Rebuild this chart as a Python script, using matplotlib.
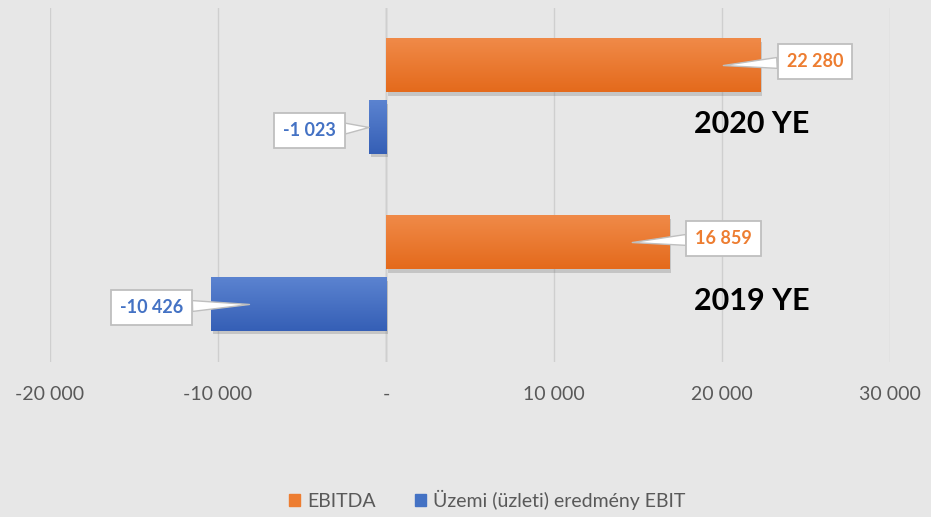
import numpy as np
import matplotlib.pyplot as plt
import matplotlib.patheffects as pe
from matplotlib.colors import LinearSegmentedColormap
from matplotlib.patches import Patch

plt.rcParams['font.family'] = ['Lato', 'DejaVu Sans']

years = ["2019 YE", "2020 YE"]
ebitda = [16859, 22280]
ebit = [-10426, -1023]
xticks = [-20000, -10000, 0, 10000, 20000, 30000]
xtick_labels = ["-20 000", "-10 000", "-", "10 000", "20 000", "30 000"]

orange = "#ed7d31"
blue = "#4472c4"
bg = "#e7e7e7"
orange_grad = LinearSegmentedColormap.from_list("og", ["#e46a1c", "#f08a48"])
blue_grad = LinearSegmentedColormap.from_list("bg", ["#355fb6", "#5b83d0"])


def fmt(v):
    s = f"{abs(v):,}".replace(",", " ")
    return ("-" if v < 0 else "") + s


def shade(bars, cmap):
    # paint a vertical gradient over each bar
    grad = np.linspace(0, 1, 64).reshape(-1, 1)
    for r in bars:
        x0, y0 = r.get_x(), r.get_y()
        ax.imshow(grad, cmap=cmap, origin="lower", aspect="auto", zorder=4,
                  extent=(x0, x0 + r.get_width(), y0, y0 + r.get_height()))


fig = plt.figure(figsize=(9.31, 5.17), dpi=100, facecolor=bg)
ax = fig.add_axes([50 / 931, 1 - 362 / 517, 840 / 931, 354 / 517])
ax.set_facecolor(bg)

y = np.arange(len(years))
h = 0.3
shadow = [pe.SimplePatchShadow(offset=(1.5, -2.5), shadow_rgbFace="#777777", alpha=0.3), pe.Normal()]
b1 = ax.barh(y + 0.175, ebitda, height=h, color=orange, zorder=3, path_effects=shadow)
b2 = ax.barh(y - 0.175, ebit, height=h, color=blue, zorder=3, path_effects=shadow)
shade(b1, orange_grad)
shade(b2, blue_grad)

ax.set_xlim(-20000, 30000)
ax.set_ylim(-0.5, 1.5)
ax.set_xticks(xticks)
ax.set_xticklabels(xtick_labels)
ax.set_yticks([])
ax.tick_params(axis="x", length=0, pad=17, labelsize=14, labelcolor="#595959")
ax.grid(axis="x", color="#cfcfcf", lw=1, zorder=0)
for s in ax.spines.values():
    s.set_visible(False)
ax.axvline(0, color="#bfbfbf", lw=1, zorder=1)

# data labels with callouts
box = dict(boxstyle="square,pad=0.5", fc="white", ec="#bfbfbf", lw=1.3)
for i, v in enumerate(ebitda):
    ax.annotate(fmt(v), xy=(v - 2200, y[i] + 0.175), xytext=(v + 3250, y[i] + 0.2),
                ha="center", va="center", fontsize=13, fontweight="bold", color=orange,
                bbox=box, zorder=6,
                arrowprops=dict(arrowstyle="wedge,tail_width=0.6", fc="white", ec="#bfbfbf",
                                lw=1, shrinkA=0, shrinkB=0))
for i, v in enumerate(ebit):
    tip = v + 2300 if v < -5000 else v + 10
    ax.annotate(fmt(v), xy=(tip, y[i] - 0.175), xytext=(v - 3550, y[i] - 0.19),
                ha="center", va="center", fontsize=13, fontweight="bold", color=blue,
                bbox=box, zorder=6,
                arrowprops=dict(arrowstyle="wedge,tail_width=0.6", fc="white", ec="#bfbfbf",
                                lw=1, shrinkA=0, shrinkB=0))

# category names next to the bars
for i, name in enumerate(years):
    ax.text(21750, y[i] - 0.155, name, ha="center", va="center", fontsize=22,
            fontweight="bold", color="black", zorder=6)

ax.set_xlim(-20000, 30000)
ax.set_ylim(-0.5, 1.5)

handles = [Patch(color=orange, label="EBITDA"),
           Patch(color=blue, label="Üzemi (üzleti) eredmény EBIT")]
fig.legend(handles=handles, loc="center", bbox_to_anchor=(487 / 931, 1 - 500 / 517),
           ncol=2, frameon=False, fontsize=14, labelcolor="#595959",
           handlelength=0.6, handleheight=0.6, handletextpad=0.35, columnspacing=2.0)

fig.savefig("out.png", dpi=100, facecolor=bg)
